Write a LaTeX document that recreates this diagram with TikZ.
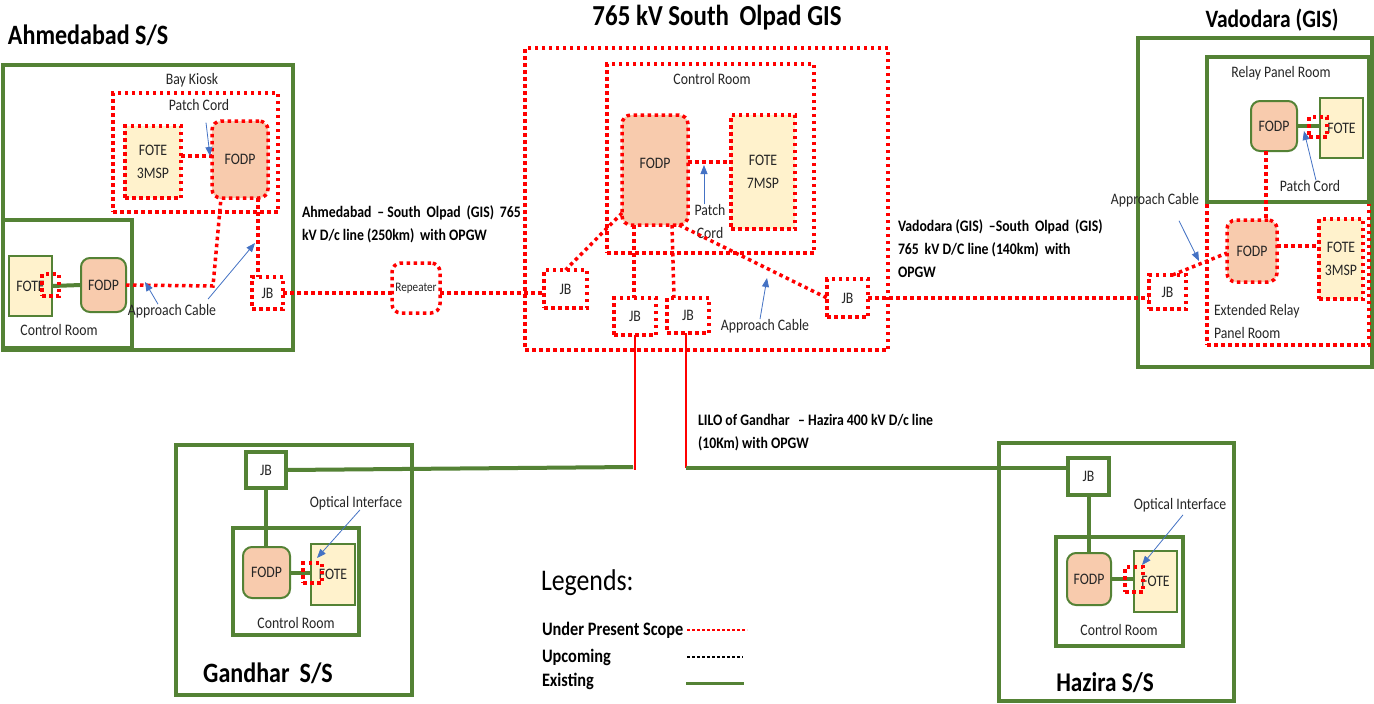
\documentclass[tikz,border=0pt]{standalone}
\usepackage{fontspec}
\setmainfont{Carlito}[FakeStretch=0.86]
\usetikzlibrary{arrows.meta}
\definecolor{exgreen}{HTML}{548235}
\definecolor{peach}{HTML}{F8CBAD}
\definecolor{lyellow}{HTML}{FFF2CC}
\definecolor{calblue}{HTML}{4472C4}
\definecolor{scopered}{HTML}{FF0000}
\newcommand\txtsmall{\fontsize{16}{23}\selectfont}
\newcommand\txttitle{\fontsize{28}{30}\selectfont\bfseries}
\newcommand\txtline{\fontsize{16}{23}\selectfont\bfseries}
\newcommand\txtlegend{\fontsize{19}{22}\selectfont\bfseries}
\begin{document}
\begin{tikzpicture}[x=1pt,y=-1pt,
  every node/.style={inner sep=0pt, outer sep=0pt, font=\txtsmall, text=black!85},
  sz/.style 2 args={minimum width=#1pt, minimum height=#2pt},
  pres/.style={draw=scopered, line width=3.5pt, dash pattern=on 3.5pt off 3.5pt},
  exline/.style={draw=exgreen, line width=4pt},
  exthin/.style={draw=exgreen, line width=2pt},
  fodp/.style={fill=peach, rounded corners=9pt},
  fote/.style={fill=lyellow},
  callout/.style={draw=calblue, line width=0.8pt, -{Triangle[length=9pt,width=7pt]}},
  feed/.style={draw=scopered, line width=1.5pt},
  ttl/.style={font=\txttitle, text=black},
  lnl/.style={font=\txtline, text=black, align=left, anchor=north west}
]
\useasboundingbox (0,0) rectangle (1374,704);
\fill[white] (0,0) rectangle (1374,704);

% ================= Ahmedabad =================
\node[ttl, anchor=west] (A_t) at (8,35) {Ahmedabad S/S};
\node[exline, sz={290}{285}] (A_outer) at (148,207.5) {};
\node (A_bk) at (192,80) {Bay Kiosk};
\node[pres, sz={165}{119}] (A_kiosk) at (195.5,152.5) {};
\node (A_pc) at (199,105) {Patch Cord};
\node[pres, fote, sz={56}{72}, align=center] (A_fote3) at (153,162) {FOTE\\3MSP};
\node[pres, fodp, sz={56}{77}] (A_fodp1) at (240,159.5) {FODP};
\node[exline, sz={129}{128}] (A_cr) at (67.5,284) {};
\node (A_crl) at (59,330) {Control Room};
\node[exthin, fote, sz={43}{60}] (A_fote) at (30.5,286) {FOTE};
\node[exthin, fodp, sz={45}{54}] (A_fodp2) at (103.5,285) {FODP};
\draw[exline] (A_fote.east) -- (A_fodp2.west);
\node[pres, sz={17}{22}] (A_oi) at (50.5,285) {};
\node[pres, sz={31}{32}] (A_jb) at (267.5,293) {JB};
\node (A_ac) at (172,311) {Approach Cable};
\coordinate (A_b1) at (213,286);
\draw[pres] ([yshift=6pt]A_fote3.east) -- ([yshift=6pt]A_fote3.east -| A_fodp1.west);
\draw[pres] (A_fodp2.east) -- (A_b1) -- ([xshift=-19pt]A_fodp1.south);
\draw[pres] ([xshift=18pt]A_fodp1.south) -- ([xshift=18pt]A_fodp1.south |- A_jb.north);
\coordinate (A_h1) at (210,156);
\coordinate (A_h2) at (145,282);
\coordinate (A_h3) at (255,243);
\draw[callout] ([xshift=7pt,yshift=-12pt]A_pc.south) -- (A_h1);
\draw[callout] ([xshift=-14pt]A_ac.north) -- (A_h2);
\draw[callout] ([xshift=36pt,yshift=5pt]A_ac.north) -- (A_h3);

% ================= Line label Ahmedabad - Olpad =================
\node[lnl] (AL) at (302,206) {Ahmedabad \,– South \,Olpad \,(GIS) \,765\\kV D/c line (250km) \,with OPGW};
\node[pres, rounded corners=9pt, sz={48}{50}, font=\fontsize{13}{15}\selectfont] (Rep) at (416,288) {Repeater};

% ================= Olpad =================
\node[ttl, font=\fontsize{29}{31}\selectfont\bfseries] (O_t) at (717,18) {765 kV South \,Olpad GIS};
\node[pres, sz={363}{302}] (O_outer) at (706.5,199) {};
\node[pres, sz={207}{189}] (O_cr) at (710.5,158.5) {};
\node (O_crl) at (712,79) {Control Room};
\node[pres, fodp, sz={66}{110}, text depth=14pt] (O_fodp) at (655,170) {FODP};
\node[pres, fote, sz={64}{114}, align=center] (O_fote) at (763,172) {FOTE\\7MSP};
\node[pres, sz={43}{38}] (O_jbL) at (565.5,289) {JB};
\node[pres, sz={42}{37}] (O_jb1) at (635,316.5) {JB};
\node[pres, sz={42}{35}] (O_jb2) at (688,315.5) {JB};
\node[pres, sz={41}{38}] (O_jbR) at (847.5,298) {JB};
\node[align=center] (O_pc) at (710,221.5) {Patch\\Cord};
\node (O_ac) at (765,326) {Approach Cable};
\draw[pres] ([yshift=8pt]O_fodp.east) -- ([yshift=8pt]O_fodp.east -| O_fote.west);
\draw[pres] ([yshift=12pt]O_fodp.south west) -- (O_jbL.north);
\draw[pres] ([xshift=-21pt]O_fodp.south) -- ([xshift=-21pt]O_fodp.south |- O_jb1.north);
\draw[pres] ([xshift=17pt]O_fodp.south) -- ([xshift=-14pt]O_jb2.north);
\draw[pres] ([xshift=24pt]O_fodp.south) -- (O_jbR.west);
\coordinate (O_h1) at (704,165);
\coordinate (O_h2) at (767,278);
\draw[callout] ([xshift=-6pt]O_pc.north) -- (O_h1);
\draw[callout] ([xshift=-5pt]O_ac.north) -- (O_h2);

% Ahmedabad - Repeater - Olpad
\draw[pres] (A_jb.east) -- (A_jb.east -| Rep.west);
\draw[pres] (Rep.east |- A_jb.east) -- (A_jb.east -| O_jbL.west);

% ================= Vadodara =================
\node[ttl, font=\fontsize{25}{28}\selectfont\bfseries] (V_t) at (1272,20) {Vadodara (GIS)};
\node[exline, sz={234}{329}] (V_outer) at (1255,202.5) {};
\node[pres, sz={162}{143}] (V_erpr) at (1288,273.5) {};
\node[exline, fill=white, sz={162}{145}] (V_rpr) at (1288,129.5) {};
\node (V_rprl) at (1281,73) {Relay Panel Room};
\node[exthin, fodp, sz={46}{50}] (V_fodp1) at (1274,126) {FODP};
\node[exthin, fote, sz={43}{60}] (V_fote1) at (1341.5,128) {FOTE};
\draw[exline] (V_fodp1.east) -- (V_fodp1.east -| V_fote1.west);
\node[pres, sz={18}{20}] (V_oi) at (1318,127) {};
\node (V_pc) at (1310,186) {Patch Cord};
\node[pres, fodp, sz={50}{62}] (V_fodp2) at (1252,251) {FODP};
\node[pres, fote, sz={44}{80}, align=center] (V_fote2) at (1341,259) {FOTE\\3MSP};
\node[align=left, anchor=north west] (V_erl) at (1214,304) {Extended Relay\\Panel Room};
\node[pres, sz={37}{34}] (V_jb) at (1167.5,292) {JB};
\node (V_ac) at (1155,200) {Approach Cable};
\draw[pres] ([xshift=-8pt]V_fodp1.south) -- ([xshift=-8pt]V_fodp1.south |- V_fodp2.north);
\draw[pres] ([yshift=5pt]V_fodp2.east) -- ([yshift=5pt]V_fodp2.east -| V_fote2.west);
\draw[pres] ([xshift=5pt]V_jb.north) -- ([yshift=-2pt]V_fodp2.west);
\coordinate (V_h1) at (1304,131);
\coordinate (V_h2) at (1199,261);
\draw[callout] ([xshift=6pt]V_pc.north) -- (V_h1);
\draw[callout] ([xshift=24pt,yshift=-14pt]V_ac.south) -- (V_h2);

% Olpad - Vadodara
\draw[pres] (O_jbR.east) -- (O_jbR.east -| V_jb.west);
\node[lnl] (VL) at (898,220) {Vadodara (GIS) \,–South \,Olpad \,(GIS)\\765 \,kV D/C line (140km) \,with\\OPGW};

% ================= Gandhar =================
\node[exline, sz={236}{250}] (G_outer) at (294,570) {};
\node[exline, sz={40}{36}] (G_jb) at (266,470) {JB};
\node[exline, sz={126}{107}] (G_cr) at (296,581.5) {};
\node[exthin, fodp, sz={47}{51}] (G_fodp) at (266.5,572.5) {FODP};
\node[exthin, fote, sz={44}{61}] (G_fote) at (333,574.5) {FOTE};
\draw[exline] (G_fodp.east) -- (G_fodp.east -| G_fote.west);
\draw[exline] (G_jb.south) -- (G_jb.south |- G_fodp.north);
\node[pres, sz={19}{20}] (G_oi) at (312.5,573) {};
\node (G_oil) at (356,503) {Optical Interface};
\node (G_crl) at (296,623) {Control Room};
\node[ttl] (G_t) at (268,673) {Gandhar \,S/S};
\coordinate (G_h) at (317,558);
\draw[callout] ([xshift=4pt]G_oil.south) -- (G_h);

% ================= Hazira =================
\node[exline, sz={235}{258}] (H_outer) at (1116.5,572) {};
\node[exline, sz={41}{37}] (H_jb) at (1088.5,476.5) {JB};
\node[exline, sz={127}{109}] (H_cr) at (1119.5,591.5) {};
\node[exthin, fodp, sz={44}{52}] (H_fodp) at (1089,579) {FODP};
\node[exthin, fote, sz={43}{61}] (H_fote) at (1155.5,581.5) {FOTE};
\draw[exline] (H_fodp.east) -- (H_fodp.east -| H_fote.west);
\draw[exline] (H_jb.south) -- (H_jb.south |- H_fodp.north);
\node[pres, sz={18}{25}] (H_oi) at (1134,579.5) {};
\node (H_oil) at (1180,505) {Optical Interface};
\node (H_crl) at (1119,630) {Control Room};
\node[ttl, font=\fontsize{27}{30}\selectfont\bfseries] (H_t) at (1105,683) {Hazira S/S};
\coordinate (H_h) at (1142,565);
\draw[callout] ([xshift=3pt,yshift=-3pt]H_oil.south) -- (H_h);

% ================= LILO =================
\coordinate (L1) at (636,470);
\coordinate (L2) at (686,468);
\coordinate (Lg) at (633,467);
\draw[feed] (O_jb1.south) -- (O_jb1.south |- L1);
\draw[feed] (L2 |- O_jb2.south) -- (L2);
\draw[exline] (G_jb.east) -- (Lg);
\draw[exline] (L2) -- (L2 -| H_jb.west);
\node[lnl] (LL) at (698,414) {LILO of Gandhar \,\,– Hazira 400 kV D/c line\\(10Km) with OPGW};

% ================= Legend =================
\node[anchor=west, font=\fontsize{30}{32}\selectfont, text=black] (leg) at (541,583) {Legends:};
\node[anchor=west, font=\txtlegend, text=black] (lg1) at (542,630) {Under Present Scope};
\node[anchor=west, font=\txtlegend, text=black] (lg2) at (542,657) {Upcoming};
\node[anchor=west, font=\txtlegend, text=black] (lg3) at (542,681) {Existing};
\coordinate (lg1s) at (687,630); \coordinate (lg1e) at (747,630);
\coordinate (lg2s) at (687,657); \coordinate (lg2e) at (743,657);
\coordinate (lg3s) at (686,683); \coordinate (lg3e) at (744,683);
\draw[draw=scopered, line width=1.2pt, dash pattern=on 3pt off 2pt] (lg1s) -- (lg1e);
\draw[draw=black, line width=1.2pt, dash pattern=on 3pt off 2pt] (lg2s) -- (lg2e);
\draw[draw=exgreen, line width=3pt] (lg3s) -- (lg3e);
\end{tikzpicture}
\end{document}
